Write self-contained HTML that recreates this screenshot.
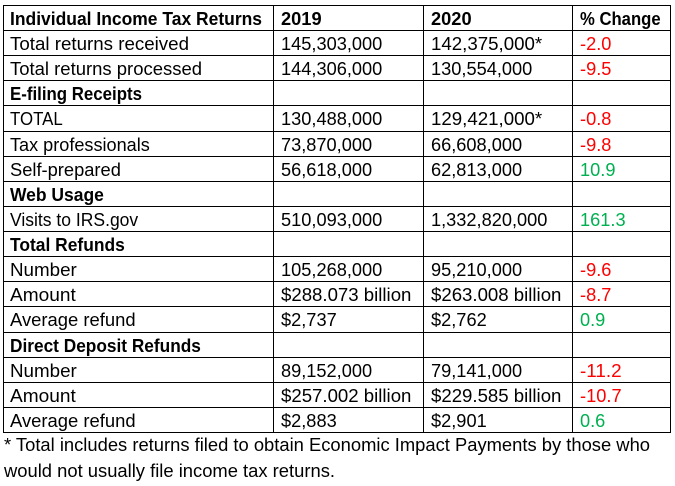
<!DOCTYPE html>
<html>
<head>
<meta charset="utf-8">
<style>
html,body{margin:0;padding:0;background:#fff;}
body{width:675px;height:486px;overflow:hidden;}
svg{display:block;}
text{font-family:"Liberation Sans",Arial,sans-serif;font-size:18px;fill:#000;}
.b{font-weight:bold;}
.r{fill:#FF0000;}
.g{fill:#00B050;}
</style>
</head>
<body>
<svg width="675" height="486" viewBox="0 0 675 486" xmlns="http://www.w3.org/2000/svg">
<rect x="0" y="0" width="675" height="486" fill="#fff"/>
<g fill="#000">
<rect x="3" y="5" width="668" height="1"/>
<rect x="3" y="30" width="668" height="1"/>
<rect x="3" y="55" width="668" height="1"/>
<rect x="3" y="80" width="668" height="1"/>
<rect x="3" y="105" width="668" height="1"/>
<rect x="3" y="131" width="668" height="1"/>
<rect x="3" y="156" width="668" height="1"/>
<rect x="3" y="181" width="668" height="1"/>
<rect x="3" y="206" width="668" height="1"/>
<rect x="3" y="231" width="668" height="1"/>
<rect x="3" y="256" width="668" height="1"/>
<rect x="3" y="281" width="668" height="1"/>
<rect x="3" y="306" width="668" height="1"/>
<rect x="3" y="332" width="668" height="1"/>
<rect x="3" y="357" width="668" height="1"/>
<rect x="3" y="382" width="668" height="1"/>
<rect x="3" y="407" width="668" height="1"/>
<rect x="3" y="432" width="668" height="1"/>
<rect x="3" y="5" width="1" height="428"/>
<rect x="273" y="5" width="1" height="428"/>
<rect x="423" y="5" width="1" height="428"/>
<rect x="572" y="5" width="1" height="428"/>
<rect x="670" y="5" width="1" height="428"/>
</g>

<!-- header -->
<text class="b" x="10" y="25" textLength="252" lengthAdjust="spacingAndGlyphs">Individual Income Tax Returns</text>
<text class="b" x="281" y="25" textLength="40.6" lengthAdjust="spacingAndGlyphs">2019</text>
<text class="b" x="431" y="25" textLength="40.6" lengthAdjust="spacingAndGlyphs">2020</text>
<text class="b" x="580" y="25" textLength="80.6" lengthAdjust="spacingAndGlyphs">% Change</text>

<!-- row 1 -->
<text x="10" y="50" textLength="179" lengthAdjust="spacingAndGlyphs">Total returns received</text>
<text x="281" y="50" textLength="101.3" lengthAdjust="spacingAndGlyphs">145,303,000</text>
<text x="431" y="50" textLength="111.2" lengthAdjust="spacingAndGlyphs">142,375,000*</text>
<text class="r" x="580" y="50" textLength="31.4" lengthAdjust="spacingAndGlyphs">-2.0</text>

<!-- row 2 -->
<text x="10" y="75" textLength="192" lengthAdjust="spacingAndGlyphs">Total returns processed</text>
<text x="281" y="75" textLength="101.3" lengthAdjust="spacingAndGlyphs">144,306,000</text>
<text x="431" y="75" textLength="101.3" lengthAdjust="spacingAndGlyphs">130,554,000</text>
<text class="r" x="580" y="75" textLength="31.4" lengthAdjust="spacingAndGlyphs">-9.5</text>

<!-- row 3 -->
<text class="b" x="10" y="100" textLength="132" lengthAdjust="spacingAndGlyphs">E-filing Receipts</text>

<!-- row 4 -->
<text x="10" y="125" textLength="52.7" lengthAdjust="spacingAndGlyphs">TOTAL</text>
<text x="281" y="125" textLength="101.3" lengthAdjust="spacingAndGlyphs">130,488,000</text>
<text x="431" y="125" textLength="111.2" lengthAdjust="spacingAndGlyphs">129,421,000*</text>
<text class="r" x="580" y="125" textLength="31.4" lengthAdjust="spacingAndGlyphs">-0.8</text>

<!-- row 5 -->
<text x="10" y="151" textLength="139.8" lengthAdjust="spacingAndGlyphs">Tax professionals</text>
<text x="281" y="151" textLength="91.1" lengthAdjust="spacingAndGlyphs">73,870,000</text>
<text x="431" y="151" textLength="91.1" lengthAdjust="spacingAndGlyphs">66,608,000</text>
<text class="r" x="580" y="151" textLength="31.4" lengthAdjust="spacingAndGlyphs">-9.8</text>

<!-- row 6 -->
<text x="10" y="176" textLength="110.9" lengthAdjust="spacingAndGlyphs">Self-prepared</text>
<text x="281" y="176" textLength="91.1" lengthAdjust="spacingAndGlyphs">56,618,000</text>
<text x="431" y="176" textLength="91.1" lengthAdjust="spacingAndGlyphs">62,813,000</text>
<text class="g" x="580" y="176" textLength="35.5" lengthAdjust="spacingAndGlyphs">10.9</text>

<!-- row 7 -->
<text class="b" x="10" y="201" textLength="93.9" lengthAdjust="spacingAndGlyphs">Web Usage</text>

<!-- row 8 -->
<text x="10" y="226" textLength="128.2" lengthAdjust="spacingAndGlyphs">Visits to IRS.gov</text>
<text x="281" y="226" textLength="101.3" lengthAdjust="spacingAndGlyphs">510,093,000</text>
<text x="431" y="226" textLength="116.4" lengthAdjust="spacingAndGlyphs">1,332,820,000</text>
<text class="g" x="580" y="226" textLength="45.6" lengthAdjust="spacingAndGlyphs">161.3</text>

<!-- row 9 -->
<text class="b" x="10" y="251" textLength="114.8" lengthAdjust="spacingAndGlyphs">Total Refunds</text>

<!-- row 10 -->
<text x="10" y="276" textLength="66.8" lengthAdjust="spacingAndGlyphs">Number</text>
<text x="281" y="276" textLength="101.3" lengthAdjust="spacingAndGlyphs">105,268,000</text>
<text x="431" y="276" textLength="91.1" lengthAdjust="spacingAndGlyphs">95,210,000</text>
<text class="r" x="580" y="276" textLength="31.4" lengthAdjust="spacingAndGlyphs">-9.6</text>

<!-- row 11 -->
<text x="10" y="301" textLength="65.8" lengthAdjust="spacingAndGlyphs">Amount</text>
<text x="281" y="301" textLength="130.4" lengthAdjust="spacingAndGlyphs">$288.073 billion</text>
<text x="431" y="301" textLength="130.4" lengthAdjust="spacingAndGlyphs">$263.008 billion</text>
<text class="r" x="580" y="301" textLength="31.4" lengthAdjust="spacingAndGlyphs">-8.7</text>

<!-- row 12 -->
<text x="10" y="326" textLength="125.6" lengthAdjust="spacingAndGlyphs">Average refund</text>
<text x="281" y="326" textLength="55.7" lengthAdjust="spacingAndGlyphs">$2,737</text>
<text x="431" y="326" textLength="55.7" lengthAdjust="spacingAndGlyphs">$2,762</text>
<text class="g" x="580" y="326" textLength="25.3" lengthAdjust="spacingAndGlyphs">0.9</text>

<!-- row 13 -->
<text class="b" x="10" y="352" textLength="190.9" lengthAdjust="spacingAndGlyphs">Direct Deposit Refunds</text>

<!-- row 14 -->
<text x="10" y="377" textLength="66.8" lengthAdjust="spacingAndGlyphs">Number</text>
<text x="281" y="377" textLength="91.1" lengthAdjust="spacingAndGlyphs">89,152,000</text>
<text x="431" y="377" textLength="91.1" lengthAdjust="spacingAndGlyphs">79,141,000</text>
<text class="r" x="580" y="377" textLength="41.6" lengthAdjust="spacingAndGlyphs">-11.2</text>

<!-- row 15 -->
<text x="10" y="402" textLength="65.8" lengthAdjust="spacingAndGlyphs">Amount</text>
<text x="281" y="402" textLength="130.4" lengthAdjust="spacingAndGlyphs">$257.002 billion</text>
<text x="431" y="402" textLength="130.4" lengthAdjust="spacingAndGlyphs">$229.585 billion</text>
<text class="r" x="580" y="402" textLength="41.6" lengthAdjust="spacingAndGlyphs">-10.7</text>

<!-- row 16 -->
<text x="10" y="427" textLength="125.6" lengthAdjust="spacingAndGlyphs">Average refund</text>
<text x="281" y="427" textLength="55.7" lengthAdjust="spacingAndGlyphs">$2,883</text>
<text x="431" y="427" textLength="55.7" lengthAdjust="spacingAndGlyphs">$2,901</text>
<text class="g" x="580" y="427" textLength="25.3" lengthAdjust="spacingAndGlyphs">0.6</text>

<!-- footnote -->
<text x="4" y="451" textLength="646" lengthAdjust="spacingAndGlyphs">* Total includes returns filed to obtain Economic Impact Payments by those who</text>
<text x="4" y="477" textLength="331" lengthAdjust="spacingAndGlyphs">would not usually file income tax returns.</text>
</svg>
</body>
</html>
